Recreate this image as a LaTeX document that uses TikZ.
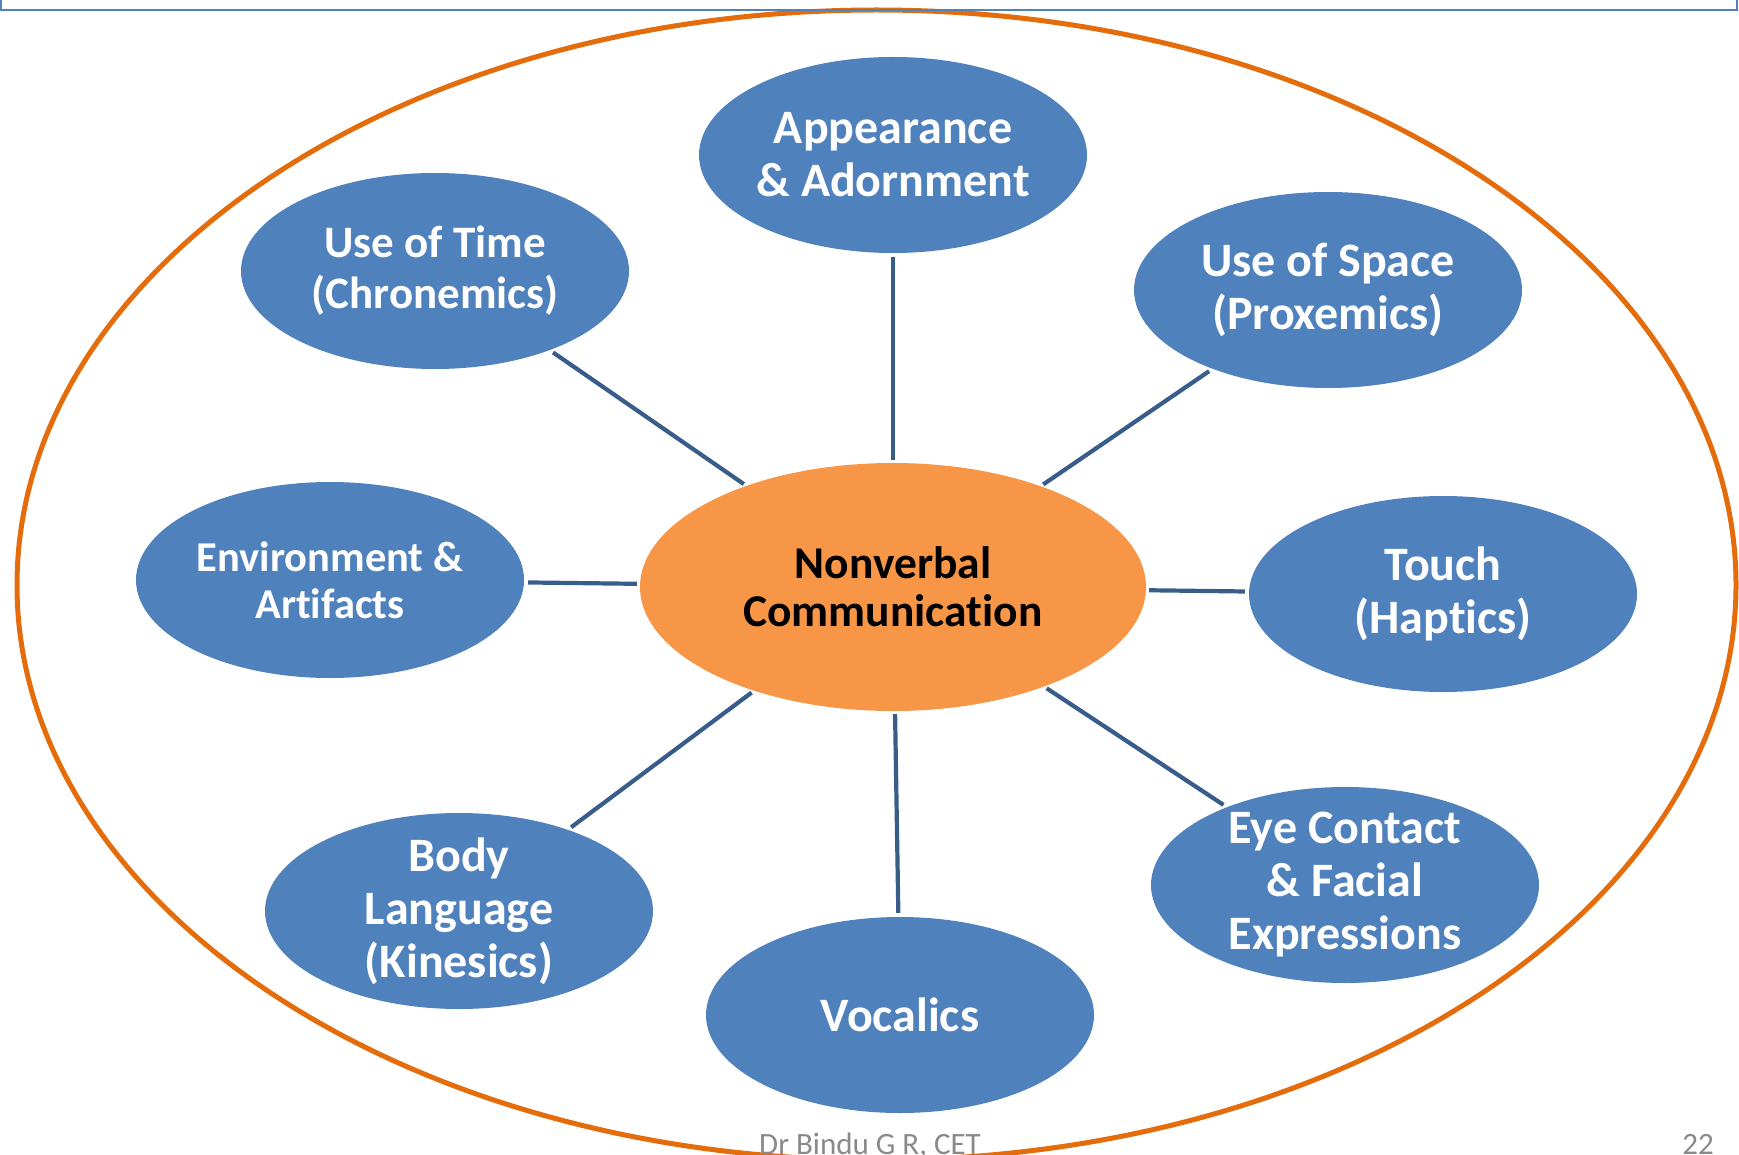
\documentclass[tikz,border=0pt]{standalone}
\usepackage{fontspec}
\setmainfont{Carlito}[Ligatures=NoCommon]
\usetikzlibrary{shapes.geometric}

\definecolor{bubbleblue}{HTML}{4F81BD}
\definecolor{hubOrange}{HTML}{F79646}
\definecolor{ringorange}{HTML}{E46C0A}
\definecolor{linkblue}{HTML}{385D8A}
\definecolor{footgray}{HTML}{898989}

\begin{document}
\begin{tikzpicture}[x=1pt, y=-1pt, node distance=432pt,
        bubble/.style={ellipse, fill=bubbleblue, text=white, minimum width=388pt, minimum height=196pt, inner xsep=0pt, inner ysep=-12pt, align=center, font=\fontsize{48pt}{53pt}\selectfont\bfseries},
        hub/.style={ellipse, fill=hubOrange, text=black, minimum width=506pt, minimum height=248pt, inner sep=0pt, align=center, font=\fontsize{45.5pt}{48pt}\selectfont\bfseries},
        link/.style={draw=linkblue, line width=4.2pt, shorten >=4pt, shorten <=3pt},
        footnote/.style={text=footgray, inner sep=0pt, font=\fontsize{31pt}{36pt}\selectfont}]
        \useasboundingbox (0,0) rectangle (1739,1155);
        \draw[ringorange, line width=5pt] (876.5,585) ellipse [x radius=859.5pt, y radius=575pt];
        \draw[bubbleblue, line width=2pt] (1,-20) rectangle (1737,10);

        \node (nonverbal) [hub] at (893,587) {Nonverbal\\Communication};
        \node (appearance) [bubble, above of=nonverbal] {Appearance\\\& Adornment};
        \node (time) [bubble, above of=nonverbal, xshift=-458pt, yshift=-116pt, font=\fontsize{45pt}{51pt}\selectfont\bfseries] {Use of Time\\(Chronemics)};
        \node (space) [bubble, above of=nonverbal, xshift=435pt, yshift=-135pt] {Use of Space\\(Proxemics)};
        \node (environment) [bubble, left of=nonverbal, xshift=-131pt, yshift=7pt, font=\fontsize{42.5pt}{47pt}\selectfont\bfseries] {Environment \&\\Artifacts};
        \node (touch) [bubble, right of=nonverbal, xshift=118pt, yshift=-7pt] {Touch\\(Haptics)};
        \node (body) [bubble, below of=nonverbal, xshift=-434pt, yshift=108pt] {Body\\Language\\(Kinesics)};
        \node (vocalics) [bubble, below of=nonverbal, xshift=7pt, yshift=4pt] {Vocalics};
        \node (eye) [bubble, below of=nonverbal, xshift=452pt, yshift=134pt] {Eye Contact\\\& Facial\\Expressions};

        \draw[link] (nonverbal) -- (appearance);
        \draw[link] (nonverbal) -- (time);
        \draw[link] (nonverbal) -- (space);
        \draw[link] (nonverbal) -- (environment);
        \draw[link] (nonverbal) -- (touch);
        \draw[link] (nonverbal) -- (body);
        \draw[link] (nonverbal) -- (vocalics);
        \draw[link] (nonverbal) -- (eye);

        \node (author) [footnote, anchor=base] at (870,1154) {Dr Bindu G R, CET};
        \node (slideno) [footnote, anchor=base east] at (1714,1154) {22};
    \end{tikzpicture}
\end{document}
